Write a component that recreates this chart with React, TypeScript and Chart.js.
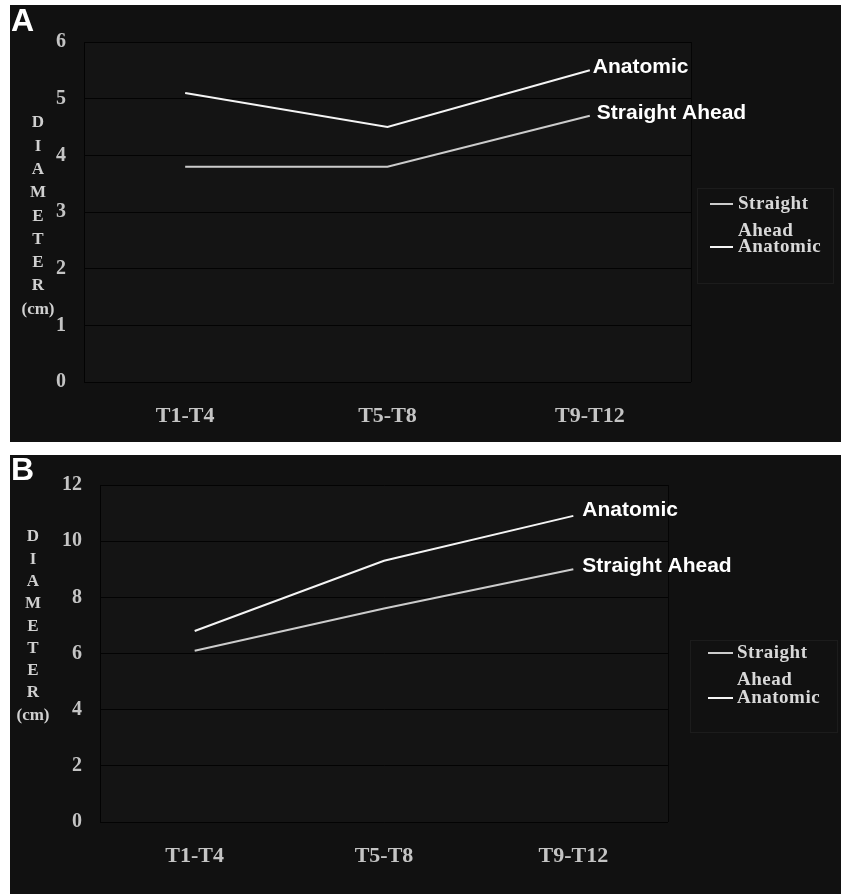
import React, { useEffect, useRef } from "react";
import { Chart, registerables } from "chart.js";

Chart.register(...registerables);

// ---- data ----
const categories = ["T1-T4", "T5-T8", "T9-T12"];
const anatomicA = [5.1, 4.5, 5.5];
const straightA = [3.8, 3.8, 4.7];
const anatomicB = [6.8, 9.3, 10.9];
const straightB = [6.1, 7.6, 9.0];
const seriesNames = ["Straight Ahead", "Anatomic"];
const titleLetters = ["D", "I", "A", "M", "E", "T", "E", "R", "(cm)"];
const legendLines = [["Straight", "Ahead"], ["Anatomic"]];

const SERIF = "'Liberation Serif', 'Times New Roman', serif";
const SANS = "'Liberation Sans', Arial, sans-serif";

type Layout = {
  letter: string;
  top: number;
  height: number;
  padTop: number;
  padRight: number;
  yWidth: number;
  xHeight: number;
  yMax: number;
  yStep: number;
  letterX: number;
  letterBase: number;
  titleX: number;
  titleY: number;
  titleStep: number;
  labelOffsets: number[][];
  box: number[];
  swatchX: number[];
  textX: number;
  rowY: number[];
};

const layoutA: Layout = {
  letter: "A", top: 5, height: 437, padTop: 37, padRight: 150, yWidth: 74, xHeight: 60,
  yMax: 6, yStep: 1, letterX: 1, letterBase: 26, titleX: 28, titleY: 118, titleStep: 23.3,
  labelOffsets: [[7, -2], [3, -3]], box: [687, 183, 136, 95], swatchX: [700, 723], textX: 728,
  rowY: [199, 226, 242],
};
const layoutB: Layout = {
  letter: "B", top: 455, height: 439, padTop: 25, padRight: 173, yWidth: 90, xHeight: 72,
  yMax: 12, yStep: 2, letterX: 1, letterBase: 25, titleX: 23, titleY: 82, titleStep: 22.3,
  labelOffsets: [[9, -3], [9, -6]], box: [680, 185, 147, 92], swatchX: [698, 723], textX: 727,
  rowY: [198, 225, 243],
};

function Panel({ L, anatomic, straight }: { L: Layout; anatomic: number[]; straight: number[] }) {
  const ref = useRef<HTMLCanvasElement>(null);
  useEffect(() => {
    if (!ref.current) return;
    const overlay = {
      id: "overlay",
      beforeDraw(chart: any) {
        const ctx = chart.ctx;
        const a = chart.chartArea;
        ctx.save();
        ctx.fillStyle = "#111111";
        ctx.fillRect(0, 0, chart.width, chart.height);
        ctx.fillStyle = "#141414";
        ctx.fillRect(a.left, a.top, a.right - a.left, a.bottom - a.top);
        ctx.restore();
      },
      afterDatasetsDraw(chart: any) {
        const ctx = chart.ctx;
        const a = chart.chartArea;
        ctx.save();
        ctx.strokeStyle = "#050505";
        ctx.lineWidth = 1;
        ctx.beginPath();
        ctx.moveTo(Math.round(a.right) + 0.5, a.top);
        ctx.lineTo(Math.round(a.right) + 0.5, a.bottom);
        ctx.stroke();
        ctx.restore();
      },
      afterDraw(chart: any) {
        const ctx = chart.ctx;
        ctx.save();
        // panel letter
        ctx.fillStyle = "#ffffff";
        ctx.font = `bold 32px ${SANS}`;
        ctx.textAlign = "left";
        ctx.textBaseline = "alphabetic";
        ctx.fillText(L.letter, L.letterX, L.letterBase);
        // vertical axis title
        ctx.font = `bold 17px ${SERIF}`;
        ctx.fillStyle = "#d0d0d0";
        ctx.textAlign = "center";
        ctx.textBaseline = "middle";
        titleLetters.forEach((t, i) => ctx.fillText(t, L.titleX, L.titleY + i * L.titleStep));
        // end-of-line labels
        ctx.font = `bold 21px ${SANS}`;
        ctx.fillStyle = "#ffffff";
        ctx.textAlign = "left";
        chart.data.datasets.forEach((ds: any, i: number) => {
          const meta = chart.getDatasetMeta(i);
          const p = meta.data[meta.data.length - 1];
          const off = L.labelOffsets[i];
          ctx.fillText(ds.label, p.x + off[0], p.y + off[1]);
        });
        // legend box
        const [bx, by, bw, bh] = L.box;
        ctx.strokeStyle = "#1c1c1c";
        ctx.lineWidth = 1;
        ctx.strokeRect(bx + 0.5, by + 0.5, bw, bh);
        ctx.font = `bold 19px ${SERIF}`;
        try { (ctx as any).letterSpacing = "0.5px"; } catch (e) {}
        ctx.fillStyle = "#d8d8d8";
        const swatchRows = [L.rowY[0], L.rowY[2]];
        chart.data.datasets.forEach((ds: any, i: number) => {
          ctx.strokeStyle = ds.borderColor;
          ctx.lineWidth = 2;
          ctx.beginPath();
          ctx.moveTo(L.swatchX[0], swatchRows[i]);
          ctx.lineTo(L.swatchX[1], swatchRows[i]);
          ctx.stroke();
        });
        ctx.fillText(legendLines[0][0], L.textX, L.rowY[0]);
        ctx.fillText(legendLines[0][1], L.textX, L.rowY[1]);
        ctx.fillText(legendLines[1][0], L.textX, L.rowY[2]);
        ctx.restore();
      },
    };
    const chart = new Chart(ref.current, {
      type: "line",
      data: {
        labels: categories,
        datasets: [
          { label: seriesNames[0], data: straight, borderColor: "#cccccc", borderWidth: 2, pointRadius: 0, tension: 0, fill: false },
          { label: seriesNames[1], data: anatomic, borderColor: "#f4f4f4", borderWidth: 2, pointRadius: 0, tension: 0, fill: false },
        ],
      },
      options: {
        responsive: false,
        animation: false,
        devicePixelRatio: 1,
        layout: { padding: { top: L.padTop, right: L.padRight, left: 0, bottom: 0 } },
        plugins: { legend: { display: false }, tooltip: { enabled: false } },
        scales: {
          x: {
            offset: true,
            grid: { display: false, drawTicks: false },
            border: { display: false },
            ticks: {
              color: "#c4c4c4",
              padding: 21,
              autoSkip: false,
              maxRotation: 0,
              font: { family: SERIF, size: 22, weight: "bold" },
            },
            afterFit: (s: any) => { s.height = L.xHeight; },
          },
          y: {
            min: 0,
            max: L.yMax,
            grid: { color: "#030303", lineWidth: 1, drawTicks: false },
            border: { display: true, color: "#030303" },
            ticks: {
              stepSize: L.yStep,
              color: "#c4c4c4",
              padding: 18,
              font: { family: SERIF, size: 20, weight: "bold" },
            },
            afterFit: (s: any) => { s.width = L.yWidth; },
          },
        },
      },
      plugins: [overlay],
    } as any);
    return () => chart.destroy();
  }, [L, anatomic, straight]);
  return (
    <canvas
      ref={ref}
      width={831}
      height={L.height}
      style={{ position: "absolute", left: 10, top: L.top, width: 831, height: L.height }}
    />
  );
}

export default function App() {
  return (
    <div style={{ width: 831, height: 896 }}>
      <Panel L={layoutA} anatomic={anatomicA} straight={straightA} />
      <Panel L={layoutB} anatomic={anatomicB} straight={straightB} />
    </div>
  );
}
